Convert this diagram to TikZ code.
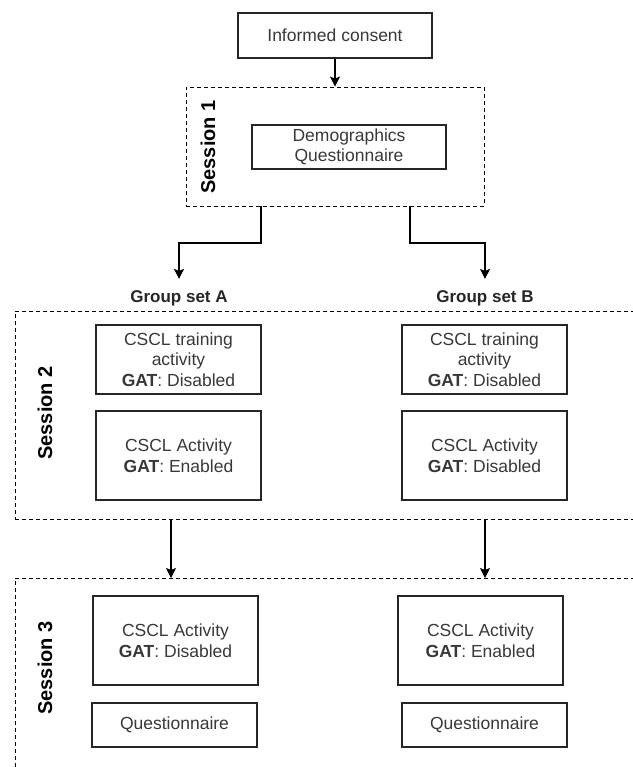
\documentclass[tikz,border=0pt]{standalone}
\usepackage{fontspec}
\setmainfont{Liberation Sans}
\usetikzlibrary{arrows.meta}

\begin{document}
\begin{tikzpicture}[x=1pt,y=-1pt,
        txt/.style={font=\fontsize{17.5}{20.5}\selectfont, text=black!78, align=center},
        stagebox/.style={txt, draw=black!85, line width=1.2pt, minimum width=165pt, inner sep=0pt},
        sessbox/.style={draw, dash pattern=on 4pt off 3pt, line width=0.9pt, inner sep=0pt},
        sesslab/.style={font=\fontsize{20}{22}\selectfont\bfseries, rotate=90},
        grplab/.style={font=\fontsize{17}{20}\selectfont\bfseries, text=black!85, inner sep=0pt, anchor=base},
        flow/.style={-{Stealth[length=10pt,width=10pt,inset=2pt]}, line width=1.1pt}]
      \useasboundingbox (0,0) rectangle (632,767);
      \node[stagebox, minimum width=194pt, minimum height=45pt] (consent) at (335,35.5) {Informed consent};
      \node[sessbox, minimum width=298pt, minimum height=119pt] (sess1) at (335,146.5) {};
      \node[sesslab] (s1lab) at (208,147) {Session 1};
      \node[stagebox, minimum width=194pt, minimum height=44pt] (demog) at (349,147) {Demographics\\Questionnaire};
      \draw[flow] (consent) -- (sess1);
      \node[grplab] (gA) at (179,302) {Group set A};
      \node[grplab] (gB) at (485,302) {Group set B};
      \coordinate (s1a) at (261,0);
      \coordinate (s1b) at (410,0);
      \coordinate (bend) at (0,243);
      \draw[flow] (sess1.south -| s1a) -- (bend -| s1a) -| ([yshift=11pt]gA.north);
      \draw[flow] (sess1.south -| s1b) -- (bend -| s1b) -| ([yshift=11pt]gB.north);
      \node[sessbox, anchor=north west, minimum width=640pt, minimum height=208pt] (sess2) at (15,311) {};
      \node[sesslab] (s2lab) at (45,413) {Session 2};
      \node[stagebox, minimum height=69pt] (trainA) at (178.5,359.5) {CSCL training\\activity\\\textbf{GAT}: Disabled};
      \node[stagebox, minimum height=89pt] (actA) at (178.5,455.5) {CSCL Activity\\\textbf{GAT}: Enabled};
      \node[stagebox, minimum height=69pt] (trainB) at (484.5,359.5) {CSCL training\\activity\\\textbf{GAT}: Disabled};
      \node[stagebox, minimum height=89pt] (actB) at (484.5,455.5) {CSCL Activity\\\textbf{GAT}: Disabled};
      \node[sessbox, anchor=north west, minimum width=640pt, minimum height=215pt] (sess3) at (15,578) {};
      \node[sesslab] (s3lab) at (45,668) {Session 3};
      \coordinate (s2a) at (171,0);
      \coordinate (s2b) at (485,0);
      \draw[flow] (sess2.south -| s2a) -- (sess3.north -| s2a);
      \draw[flow] (sess2.south -| s2b) -- (sess3.north -| s2b);
      \node[stagebox, minimum height=89pt] (postA) at (175.5,640.5) {CSCL Activity\\\textbf{GAT}: Disabled};
      \node[stagebox, minimum height=44pt] (questA) at (174.5,725) {Questionnaire};
      \node[stagebox, minimum height=89pt] (postB) at (480.5,640.5) {CSCL Activity\\\textbf{GAT}: Enabled};
      \node[stagebox, minimum height=44pt] (questB) at (484.5,725) {Questionnaire};
    \end{tikzpicture}
\end{document}
